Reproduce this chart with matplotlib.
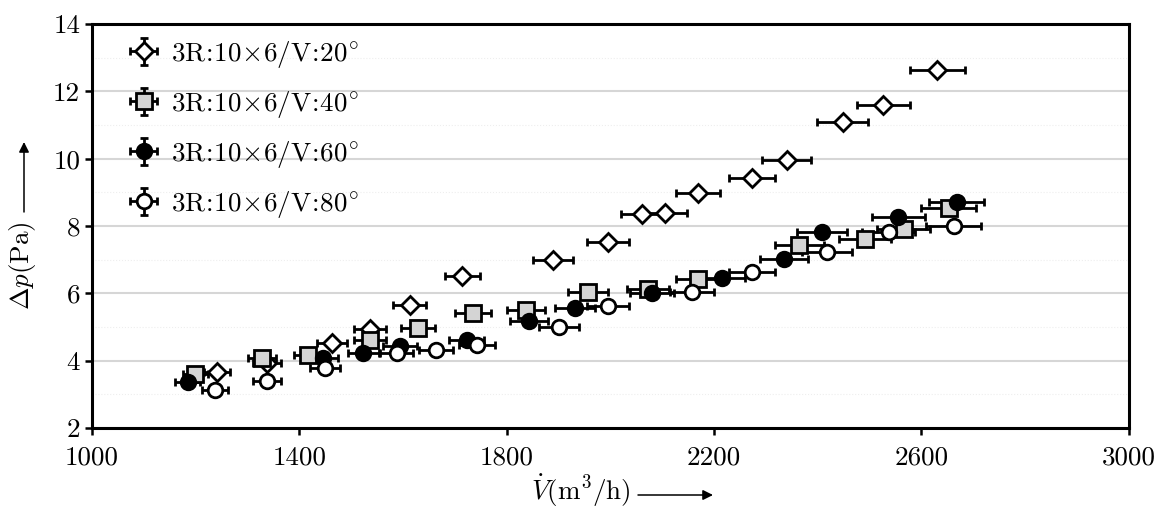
import matplotlib
matplotlib.use("Agg")
import matplotlib.pyplot as plt
from matplotlib.ticker import MultipleLocator

plt.rcParams["font.family"] = ["cmr10", "DejaVu Serif"]
plt.rcParams["mathtext.fontset"] = "cm"
plt.rcParams["axes.unicode_minus"] = False

# flow rate (m3/h) and pressure drop (Pa) per inclination angle
v20 = [1241, 1337, 1463, 1536, 1613, 1714, 1889, 1995, 2061, 2105, 2169, 2273, 2340, 2448, 2526, 2630]
p20 = [3.66, 3.93, 4.53, 4.94, 5.65, 6.52, 6.99, 7.53, 8.36, 8.39, 8.97, 9.43, 9.96, 11.09, 11.59, 12.63]
e20 = [25, 27, 29, 31, 32, 34, 38, 40, 41, 42, 43, 45, 47, 49, 51, 53]

v40 = [1199, 1328, 1417, 1536, 1629, 1735, 1837, 1957, 2072, 2169, 2364, 2491, 2566, 2653]
p40 = [3.62, 4.07, 4.16, 4.61, 4.97, 5.42, 5.51, 6.04, 6.14, 6.43, 7.44, 7.61, 7.91, 8.53]
e40 = [24, 27, 28, 31, 33, 35, 37, 39, 41, 43, 47, 50, 51, 53]

v60 = [1185, 1446, 1523, 1594, 1723, 1843, 1932, 2080, 2215, 2335, 2408, 2555, 2668]
p60 = [3.37, 4.08, 4.23, 4.45, 4.62, 5.19, 5.57, 6.01, 6.46, 7.02, 7.82, 8.27, 8.71]
e60 = [24, 29, 30, 32, 34, 37, 39, 42, 44, 47, 48, 51, 53]

v80 = [1237, 1338, 1449, 1588, 1663, 1743, 1901, 1995, 2157, 2273, 2418, 2537, 2662]
p80 = [3.13, 3.40, 3.78, 4.23, 4.32, 4.47, 5.00, 5.62, 6.04, 6.63, 7.23, 7.82, 8.00]
e80 = [25, 27, 29, 32, 33, 35, 38, 40, 43, 45, 48, 51, 53]

yerr = 0.1
xticks = [1000, 1400, 1800, 2200, 2600, 3000]

labels = [r"$\mathrm{3R\!:\!10\!\times\!6/V\!:\!20^{\circ}}$",
          r"$\mathrm{3R\!:\!10\!\times\!6/V\!:\!40^{\circ}}$",
          r"$\mathrm{3R\!:\!10\!\times\!6/V\!:\!60^{\circ}}$",
          r"$\mathrm{3R\!:\!10\!\times\!6/V\!:\!80^{\circ}}$"]

W, H = 1159, 509
fig = plt.figure(figsize=(W / 100, H / 100), dpi=100)
ax = fig.add_axes([0.0794, 0.159, 0.8946, 0.794])

series = [
    (v20, p20, e20, "D", "white", 9.5),
    (v40, p40, e40, "s", "#d4d4d4", 11),
    (v60, p60, e60, "o", "black", 10.5),
    (v80, p80, e80, "o", "white", 10.5),
]
for (v, p, e, m, fc, ms), lab in zip(series, labels):
    ax.errorbar(v, p, xerr=e, yerr=yerr, fmt=m, mfc=fc, mec="black", mew=2.0,
                ms=ms, ecolor="black", elinewidth=2.0, capsize=3, capthick=2.0,
                label=lab, zorder=3)

ax.set_xlim(1000, 3000)
ax.set_ylim(2, 14)
ax.set_xticks(xticks)
ax.yaxis.set_major_locator(MultipleLocator(2))
ax.yaxis.set_minor_locator(MultipleLocator(1))
ax.grid(axis="y", which="major", color="#d6d6d6", lw=1.5, zorder=0)
ax.grid(axis="y", which="minor", color="#eeeeee", lw=0.8, ls=":", zorder=0)
ax.tick_params(axis="y", which="minor", length=0)
ax.tick_params(which="major", direction="out", length=5, width=1.8, labelsize=19.5)
ax.tick_params(axis="x", pad=8)
for s in ax.spines.values():
    s.set_linewidth(2.2)

# axis labels with long arrows, as in the original
fig.text(581 / W, 1 - 491 / H, r"$\dot{V}(\mathrm{m^3/h})$", fontsize=19.5,
         ha="center", va="center")
fig.text(23 / W, 1 - 266 / H, r"$\Delta p(\mathrm{Pa})$", fontsize=19.5,
         ha="center", va="center", rotation=90)
arrow = dict(arrowstyle="-|>", lw=1.1, color="black", mutation_scale=15,
             shrinkA=0, shrinkB=0)
ax.annotate("", xy=(713 / W, 1 - 495 / H), xytext=(638 / W, 1 - 495 / H),
            xycoords="figure fraction", textcoords="figure fraction", arrowprops=arrow)
ax.annotate("", xy=(24 / W, 1 - 142 / H), xytext=(24 / W, 1 - 212 / H),
            xycoords="figure fraction", textcoords="figure fraction", arrowprops=arrow)

ax.legend(loc="upper left", frameon=False, fontsize=19.5, handlelength=1.1,
          handletextpad=0.45, labelspacing=0.7, borderaxespad=0.0,
          bbox_to_anchor=(0.025, 0.99))

fig.savefig("out.png", dpi=100)
